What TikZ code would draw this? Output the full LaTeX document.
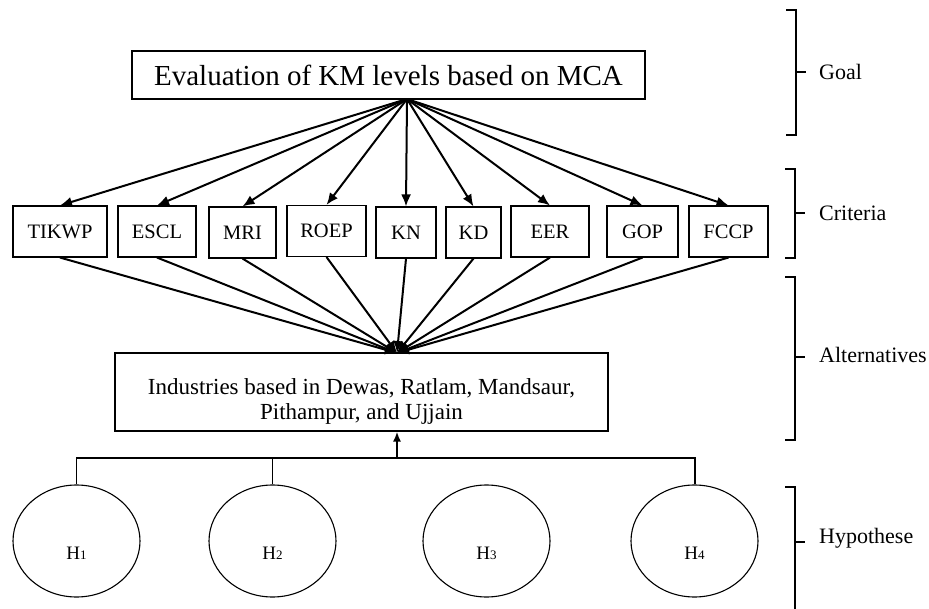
\documentclass[tikz,border=0pt]{standalone}
\usepackage{fontspec}
\setmainfont{Liberation Serif}
\usetikzlibrary{shapes.geometric,arrows.meta}
\tikzset{node distance=2.0cm, auto}
\tikzset{
  crit/.style={draw, line width=1.1pt, inner sep=0pt, minimum height=51pt,
    font=\fontsize{20.5}{22}\selectfont},
  hyp/.style={draw, ellipse, line width=1.1pt, minimum width=127pt,
    minimum height=112pt, inner sep=0pt},
  hlab/.style={inner sep=0pt, font=\fontsize{19}{21}\selectfont},
  lvl/.style={anchor=west, inner sep=0pt, font=\fontsize{22}{24}\selectfont},
  brk/.style={line width=1.3pt},
  link/.style={-{Latex[length=12pt,width=10pt]}, line width=2pt}
}
\newcommand{\hsub}[1]{{\fontsize{13}{13}\selectfont #1}}

\begin{document}
\begin{tikzpicture}[x=1pt, y=-1pt]
\useasboundingbox (0,0) rectangle (929,609);
% goal
\node[draw, line width=1.1pt, inner sep=0pt, minimum width=513pt, minimum height=48pt,
  font=\fontsize{29}{32}\selectfont] (goal) at (388.5,75) {Evaluation of KM levels based on MCA};
% criteria
\node[crit, minimum width=94pt] (tikwp) at (60,231.5) {TIKWP};
\node[crit, minimum width=78pt] (escl) at (157,231.5) {ESCL};
\node[crit, minimum width=67pt] (mri) at (242.5,232.5) {MRI};
\node[crit, minimum width=79pt] (roep) at (326.5,231) {ROEP};
\node[crit, minimum width=60pt] (kn) at (406,232.5) {KN};
\node[crit, minimum width=55pt] (kd) at (473.5,232.5) {KD};
\node[crit, minimum width=78pt] (eer) at (550,231.5) {EER};
\node[crit, minimum width=71pt] (gop) at (642.5,231.5) {GOP};
\node[crit, minimum width=79pt] (fccp) at (728.5,231.5) {FCCP};
% alternatives
\node[draw, line width=1.1pt, inner sep=0pt, minimum width=493pt, minimum height=78pt,
  label={[align=center, font=\fontsize{23}{25}\selectfont, yshift=-9pt]center:
  Industries based in Dewas, Ratlam, Mandsaur,\\Pithampur, and Ujjain}] (alt) at (361.5,392) {};
% hypotheses
\node[hyp] (h1) at (76.5,541) {};
\node[hyp] (h2) at (272.5,541) {};
\node[hyp] (h3) at (486.5,541) {};
\node[hyp] (h4) at (694.5,541) {};
\node[hlab] (h1lab) at ([yshift=-12pt]h1.center) {H\hsub{1}};
\node[hlab] (h2lab) at ([yshift=-12pt]h2.center) {H\hsub{2}};
\node[hlab] (h3lab) at ([yshift=-12pt]h3.center) {H\hsub{3}};
\node[hlab] (h4lab) at ([yshift=-12pt]h4.center) {H\hsub{4}};

\coordinate (gout) at (407,99);
\coordinate (ain) at (397,353);
\coordinate (hub) at (397,458);
\foreach \c in {tikwp,escl,mri,roep,kn,kd,eer,gop,fccp}{
  \draw[link] (gout) -- (\c.north);
  \draw[link] (\c.south) -- (ain);
}
\draw[line width=1.2pt] (h1.north) |- (hub);
\draw[line width=1.2pt] (h2.north) -- (h2.north |- hub);
\draw[line width=2pt] (h4.north) |- (hub);
\draw[-{Latex[length=10pt,width=8pt]}, line width=2pt] (hub) -- (alt.south -| hub);

% levels
\draw[brk] (786,10) -| (796,135) -- (786,135);
\draw[brk] (796,72) -- (806,72);
\node[lvl] (goallab) at (819,72) {Goal};
\draw[brk] (785,169) -| (795,258) -- (785,258);
\draw[brk] (795,213) -- (805,213);
\node[lvl] (critlab) at (819,213) {Criteria};
\draw[brk] (785,277) -| (795,440) -- (785,440);
\draw[brk] (795,357) -- (805,357);
\node[lvl] (altlab) at (819,355) {Alternatives};
\draw[brk] (785,487) -| (795,612);
\draw[brk] (795,542) -- (805,542);
\node[lvl] (hyplab) at (819,538) {Hypothese};
\end{tikzpicture}
\end{document}
